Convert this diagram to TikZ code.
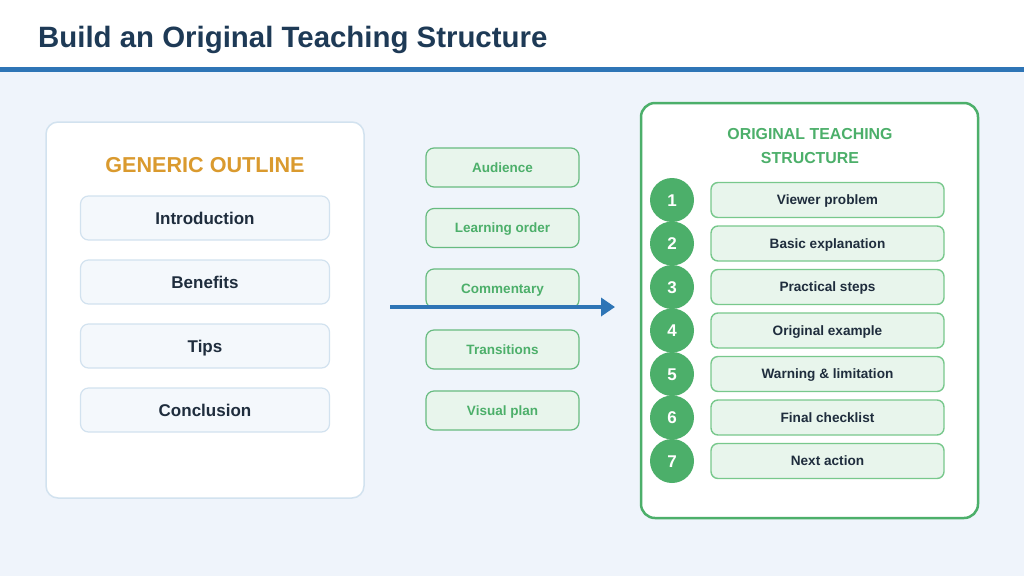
\documentclass[tikz,border=0pt]{standalone}
\usepackage{fontspec}
\setmainfont{Liberation Sans}
\usepackage{xcolor}
\usepackage{tikz}
\usetikzlibrary{arrows.meta}

\definecolor{titlenavy}{HTML}{1E3A56}
\definecolor{rulebl}{HTML}{2E75B6}
\definecolor{pagebg}{HTML}{EFF4FB}
\definecolor{greyline}{HTML}{D2E2EF}
\definecolor{greyfill}{HTML}{F4F8FC}
\definecolor{ink}{HTML}{1F2D3D}
\definecolor{amber}{HTML}{DA9A2E}
\definecolor{leaf}{HTML}{4CAF6A}
\definecolor{leaffill}{HTML}{E8F5EC}
\definecolor{leafline}{HTML}{78C88C}

\tikzset{
    panel/.style={rounded corners=12pt},
    capcentre/.style={text height=#1, text depth=0pt},
    outlinebox/.style={draw=greyline, line width=1.2pt, fill=greyfill, rounded corners=8pt,
        minimum width=249pt, minimum height=44pt, inner sep=0pt, capcentre=12.2pt,
        font=\fontsize{17}{20}\selectfont\bfseries, text=ink},
    topicbox/.style={draw=leaf!85, line width=1.2pt, fill=leaffill, rounded corners=8pt,
        minimum width=153pt, minimum height=39pt, inner sep=0pt, capcentre=9.7pt,
        font=\fontsize{13.5}{16}\selectfont\bfseries, text=leaf},
    stepbox/.style={draw=leafline, line width=1.4pt, fill=leaffill, rounded corners=7pt,
        minimum width=233pt, minimum height=35pt, inner sep=0pt, capcentre=9.7pt,
        font=\fontsize{13.6}{16}\selectfont\bfseries, text=ink},
    stepdot/.style={circle, fill=leaf, minimum size=44pt, inner sep=0pt, capcentre=12.2pt,
        font=\fontsize{17}{20}\selectfont\bfseries, text=white}
}

\begin{document}
\begin{tikzpicture}[x=1pt, y=-1pt]
    \useasboundingbox (0, 0) rectangle (1024, 576);
    \fill[pagebg] (0, 0) rectangle (1024, 576);
    \fill[white] (0, 0) rectangle (1024, 67);
    \fill[rulebl] (0, 67) rectangle (1024, 72);
    \node[anchor=base west, font=\fontsize{29.4}{32}\selectfont\bfseries, text=titlenavy, inner sep=0pt] (title) at (38, 47) {Build an Original Teaching Structure};

    \draw[panel, draw=greyline, line width=1.5pt, fill=white] (46, 122) rectangle (364, 498);
    \node[capcentre=15.5pt, font=\fontsize{21.6}{24}\selectfont\bfseries, text=amber] (generic) at (205, 164.5) {GENERIC OUTLINE};
    \node[outlinebox] (intro) at (205, 218) {Introduction};
    \node[outlinebox] (benefits) at (205, 282) {Benefits};
    \node[outlinebox] (tips) at (205, 346) {Tips};
    \node[outlinebox] (conclusion) at (205, 410) {Conclusion};

    \node[topicbox] (audience) at (502.5, 167.5) {Audience};
    \node[topicbox] (order) at (502.5, 228) {Learning order};
    \node[topicbox] (commentary) at (502.5, 288.5) {Commentary};
    \node[topicbox] (transitions) at (502.5, 349.5) {Transitions};
    \node[topicbox] (visual) at (502.5, 410.5) {Visual plan};

    \coordinate (arrowstart) at (390, 307);
    \coordinate (arrowend) at (615, 307);
    \draw[rulebl, line width=4.5pt, -{Triangle[length=14pt, width=18pt]}] (arrowstart) -- (arrowend);

    \draw[panel, rounded corners=14pt, draw=leaf, line width=2.5pt, fill=white] (641, 103) rectangle (978, 518);
    \node[font=\fontsize{15.9}{24}\selectfont\bfseries, text=leaf, align=center] (origtitle) at (810, 146) {ORIGINAL TEACHING\\STRUCTURE};

    \node[stepdot] (n1) at (672, 200) {1};
    \node[stepdot] (n2) at (672, 243.5) {2};
    \node[stepdot] (n3) at (672, 287) {3};
    \node[stepdot] (n4) at (672, 330.5) {4};
    \node[stepdot] (n5) at (672, 374) {5};
    \node[stepdot] (n6) at (672, 417.5) {6};
    \node[stepdot] (n7) at (672, 461) {7};

    \node[stepbox] (s1) at (827.5, 200) {Viewer problem};
    \node[stepbox] (s2) at (827.5, 243.5) {Basic explanation};
    \node[stepbox] (s3) at (827.5, 287) {Practical steps};
    \node[stepbox] (s4) at (827.5, 330.5) {Original example};
    \node[stepbox] (s5) at (827.5, 374) {Warning \& limitation};
    \node[stepbox] (s6) at (827.5, 417.5) {Final checklist};
    \node[stepbox] (s7) at (827.5, 461) {Next action};
\end{tikzpicture}
\end{document}
